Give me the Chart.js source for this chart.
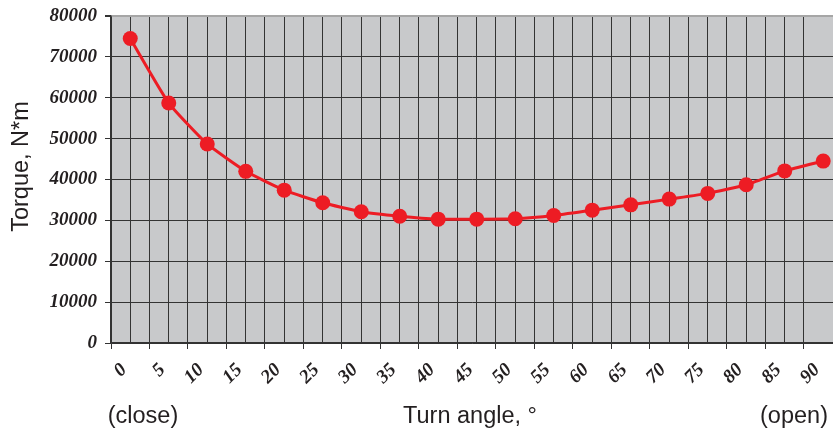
<!DOCTYPE html>
<html>
<head>
<meta charset="utf-8">
<script src="https://cdn.jsdelivr.net/npm/chart.js@4"></script>
<style>
  body { margin: 0; background: #fff; }
  #grafico { display: block; }
</style>
</head>
<body>
<canvas id="grafico" width="833" height="430"></canvas>
<script>
// angulo de giro (graus) - pontos no meio de cada intervalo
var angulos = [2.5, 7.5, 12.5, 17.5, 22.5, 27.5, 32.5, 37.5, 42.5, 47.5, 52.5, 57.5, 62.5, 67.5, 72.5, 77.5, 82.5, 87.5, 92.5];
// torque em N*m
var torque = [74500, 58700, 48700, 42000, 37400, 34300, 32100, 31000, 30300, 30300, 30400, 31200, 32500, 33800, 35200, 36600, 38700, 42100, 44500];
// textos
var tituloY = 'Torque, N*m';
var tituloX = 'Turn angle, °';
var textoFechado = '(close)';
var textoAberto = '(open)';

var pontos = [];
for (var i = 0; i < angulos.length; i++) {
    pontos.push({ x: angulos[i], y: torque[i] });
}

var corTexto = '#231f20';
var fonteEixo = { family: 'Liberation Serif', size: 19, weight: 'bold', style: 'italic' };

// fundo cinza da area do grafico
const fundo = {
    id: 'fundo',
    beforeDraw(chart) {
        const { ctx, chartArea } = chart;
        ctx.save();
        ctx.fillStyle = '#c8c9cb';
        ctx.fillRect(chartArea.left, chartArea.top, chartArea.right - chartArea.left, chartArea.bottom - chartArea.top);
        ctx.restore();
    }
};

// titulos e textos extras
const textos = {
    id: 'textos',
    afterDraw(chart) {
        const { ctx } = chart;
        ctx.save();
        ctx.fillStyle = corTexto;
        ctx.font = '23.5px "Liberation Sans"';
        ctx.textAlign = 'center';
        ctx.textBaseline = 'alphabetic';
        ctx.fillText(tituloX, 470, 423);
        ctx.fillText(textoFechado, 143, 423);
        ctx.fillText(textoAberto, 794, 423);
        ctx.translate(28, 166.5);
        ctx.rotate(-Math.PI / 2);
        ctx.fillText(tituloY, 0, 0);
        ctx.restore();
    }
};

const config = {
    type: 'line',
    data: {
        datasets: [{
            label: 'Torque',
            data: pontos,
            borderColor: '#ed1c24',
            backgroundColor: '#ed1c24',
            borderWidth: 3,
            pointRadius: 7.5,
            pointHoverRadius: 7.5,
            pointBorderWidth: 0,
            tension: 0.15,
            fill: false
        }]
    },
    options: {
        responsive: false,
        animation: false,
        devicePixelRatio: 1,
        layout: { autoPadding: false, padding: { top: 16, right: 0, left: 0, bottom: 0 } },
        plugins: {
            legend: { display: false },
            tooltip: { enabled: false }
        },
        scales: {
            x: {
                type: 'linear',
                min: 0,
                max: 93.77,
                afterFit: function (escala) {
                    escala.height = 87;
                    escala.paddingRight = 0;
                    escala.paddingLeft = 0;
                },
                border: { color: '#333', width: 1.5 },
                grid: {
                    color: '#333',
                    lineWidth: 1,
                    tickLength: 6,
                    tickColor: function (c) { return c.tick && c.tick.value % 5 === 0 ? '#333' : 'rgba(0,0,0,0)'; }
                },
                ticks: {
                    stepSize: 2.5,
                    autoSkip: false,
                    minRotation: 45,
                    maxRotation: 45,
                    labelOffset: 13,
                    padding: 10,
                    color: corTexto,
                    font: fonteEixo,
                    callback: function (v) { return (v % 5 === 0 && v <= 90) ? String(v) : ''; }
                }
            },
            y: {
                min: 0,
                max: 80000,
                afterFit: function (escala) {
                    escala.width = 111;
                    escala.paddingTop = 0;
                    escala.paddingBottom = 0;
                },
                border: { color: '#333', width: 1.5 },
                grid: {
                    color: function (c) { return c.tick && c.tick.value === 80000 ? '#a6a6a6' : '#333'; },
                    lineWidth: function (c) { return c.tick && c.tick.value === 80000 ? 2 : 1; },
                    tickLength: 6,
                    tickColor: '#333'
                },
                ticks: {
                    stepSize: 10000,
                    padding: 8,
                    color: corTexto,
                    font: fonteEixo,
                    callback: function (v) { return String(v); }
                }
            }
        }
    },
    plugins: [fundo, textos]
};

var grafico = new Chart(document.getElementById('grafico'), config);
</script>
</body>
</html>
